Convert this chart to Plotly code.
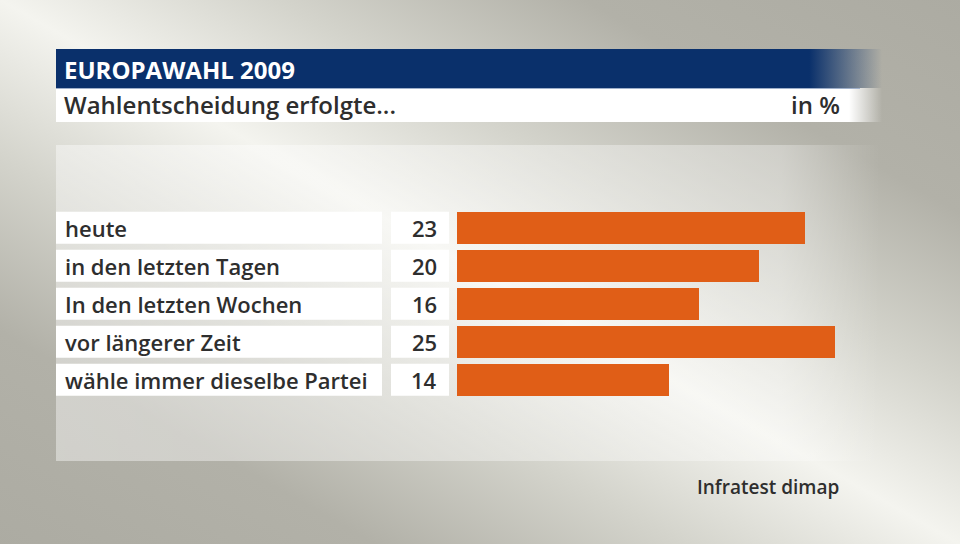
import base64
import plotly.graph_objects as go

# ---- data ----
categories = ["heute", "in den letzten Tagen", "In den letzten Wochen",
              "vor längerer Zeit", "wähle immer dieselbe Partei"]
values = [23, 20, 16, 25, 14]
title_text = "EUROPAWAHL 2009"
subtitle_text = "Wahlentscheidung erfolgte..."
unit_text = "in %"
source_text = "Infratest dimap"

# ---- style ----
W, H = 960, 544
BAR = "#e05e17"
TEXT = "#2e2e2e"
FONT = "Open Sans"


def px(x):
    return x / W


def py(y):
    return 1 - y / H


svg = f'''<svg xmlns="http://www.w3.org/2000/svg" width="{W}" height="{H}" viewBox="0 0 {W} {H}">
<defs>
<linearGradient id="bg" gradientUnits="userSpaceOnUse" x1="243" y1="690" x2="717" y2="-146">
<stop offset="0" stop-color="#acaba2"/>
<stop offset="0.2" stop-color="#b2b1a8"/>
<stop offset="0.36" stop-color="#d4d4cc"/>
<stop offset="0.5" stop-color="#f4f4ef"/>
<stop offset="0.64" stop-color="#d4d4cc"/>
<stop offset="0.8" stop-color="#b2b1a8"/>
<stop offset="1" stop-color="#acaba2"/>
</linearGradient>
<linearGradient id="panel" gradientUnits="userSpaceOnUse" x1="56" y1="0" x2="880" y2="0">
<stop offset="0" stop-color="#ffffff" stop-opacity="0.42"/>
<stop offset="0.88" stop-color="#ffffff" stop-opacity="0.32"/>
<stop offset="1" stop-color="#ffffff" stop-opacity="0"/>
</linearGradient>
<linearGradient id="blue" gradientUnits="userSpaceOnUse" x1="56" y1="0" x2="882" y2="0">
<stop offset="0" stop-color="#0a306b" stop-opacity="1"/>
<stop offset="0.912" stop-color="#0a306b" stop-opacity="1"/>
<stop offset="1" stop-color="#0a306b" stop-opacity="0"/>
</linearGradient>
<linearGradient id="white" gradientUnits="userSpaceOnUse" x1="56" y1="0" x2="882" y2="0">
<stop offset="0" stop-color="#ffffff" stop-opacity="1"/>
<stop offset="0.96" stop-color="#ffffff" stop-opacity="1"/>
<stop offset="1" stop-color="#ffffff" stop-opacity="0"/>
</linearGradient>
</defs>
<rect x="0" y="0" width="{W}" height="{H}" fill="url(#bg)"/>
<rect x="56" y="145" width="824" height="316" fill="url(#panel)"/>
<rect x="56" y="49" width="826" height="39" fill="url(#blue)"/>
<rect x="56" y="88" width="826" height="34" fill="url(#white)"/>
</svg>'''
svg_uri = "data:image/svg+xml;base64," + base64.b64encode(svg.encode("utf-8")).decode("ascii")

fig = go.Figure()
fig.add_trace(go.Bar(
    x=values, y=categories, orientation="h",
    marker=dict(color=BAR, line=dict(width=0)),
    width=0.842, hoverinfo="skip",
))

# plot geometry
x0_pix = 457
scale = 15.12  # px per percent
xmax = 30
top_pix, row_pitch = 208.7, 38

n = len(categories)
shapes = []
annotations = []
half = 0.421
for i, (cat, val) in enumerate(zip(categories, values)):
    shapes.append(dict(type="rect", xref="paper", yref="y",
                       x0=px(56), x1=px(382), y0=i - half, y1=i + half,
                       fillcolor="white", line=dict(width=0), layer="below"))
    shapes.append(dict(type="rect", xref="paper", yref="y",
                       x0=px(391), x1=px(449), y0=i - half, y1=i + half,
                       fillcolor="white", line=dict(width=0), layer="below"))
    annotations.append(dict(text=cat, xref="paper", yref="y", x=px(63), y=i,
                            xanchor="left", yanchor="middle", showarrow=False,
                            font=dict(family=FONT, size=22, color=TEXT, weight=600)))
    annotations.append(dict(text=str(val), xref="paper", yref="y", x=px(439), y=i,
                            xanchor="right", yanchor="middle", showarrow=False,
                            font=dict(family=FONT, size=22, color=TEXT, weight=600)))

# header line
shapes.append(dict(type="line", xref="paper", yref="paper",
                   x0=px(56), x1=px(860), y0=py(88.5), y1=py(88.5),
                   line=dict(color="#9fb0cb", width=1)))

annotations += [
    dict(text=title_text, xref="paper", yref="paper", x=px(62), y=py(69),
         xanchor="left", yanchor="middle", showarrow=False,
         font=dict(family=FONT, size=24, color="white", weight=700)),
    dict(text=subtitle_text, xref="paper", yref="paper", x=px(62), y=py(105),
         xanchor="left", yanchor="middle", showarrow=False,
         font=dict(family=FONT, size=24, color=TEXT, weight=600)),
    dict(text=unit_text, xref="paper", yref="paper", x=px(842), y=py(105),
         xanchor="right", yanchor="middle", showarrow=False,
         font=dict(family=FONT, size=24, color=TEXT, weight=600)),
    dict(text=source_text, xref="paper", yref="paper", x=px(841), y=py(487),
         xanchor="right", yanchor="middle", showarrow=False,
         font=dict(family=FONT, size=19, color=TEXT, weight=600)),
]

fig.update_layout(
    width=W, height=H,
    margin=dict(l=0, r=0, t=0, b=0),
    paper_bgcolor="#b4b3aa",
    plot_bgcolor="rgba(0,0,0,0)",
    showlegend=False,
    bargap=0,
    images=[dict(source=svg_uri, xref="paper", yref="paper", x=0, y=1,
                 sizex=1, sizey=1, sizing="stretch", xanchor="left",
                 yanchor="top", layer="below")],
    xaxis=dict(domain=[px(x0_pix), px(x0_pix + xmax * scale)], range=[0, xmax],
               visible=False, fixedrange=True),
    yaxis=dict(domain=[py(top_pix + n * row_pitch), py(top_pix)],
               range=[n - 0.5, -0.5], type="category",
               categoryorder="array", categoryarray=categories,
               visible=False, fixedrange=True),
    shapes=shapes,
    annotations=annotations,
)

fig.write_html("out.html", config={"displayModeBar": False},
               post_script="document.body.style.margin='0';document.body.style.padding='0';document.body.style.overflow='hidden';")
